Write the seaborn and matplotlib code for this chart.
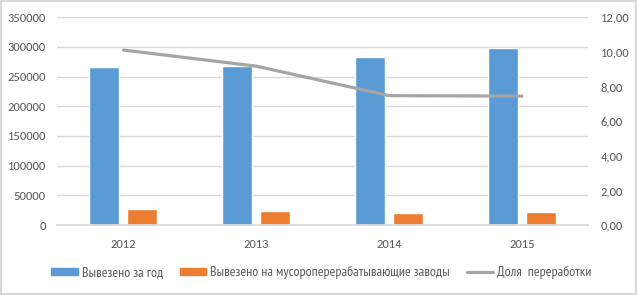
import numpy as np
import pandas as pd
import matplotlib
matplotlib.use('Agg')
import matplotlib.pyplot as plt
import seaborn as sns
from matplotlib.ticker import FuncFormatter
from matplotlib.patches import Patch
from matplotlib.lines import Line2D

# data
years = ['2012', '2013', '2014', '2015']
total_removed = [265400, 267500, 283200, 297800]
to_plants = [26400, 24100, 20700, 21900]
recycle_share = [10.10, 9.17, 7.47, 7.44]

series_names = ['Вывезено за год', 'Вывезено на мусороперерабатывающие заводы']
line_name = 'Доля  переработки'
colors = ['#5B9BD5', '#ED7D31']
line_color = '#A5A5A5'
text_color = '#595959'

df = pd.DataFrame({
    'year': years * 2,
    'value': total_removed + to_plants,
    'series': [series_names[0]] * 4 + [series_names[1]] * 4,
})

sns.set_theme(style='white')
plt.rcParams['font.family'] = ['Carlito', 'DejaVu Sans']

fig = plt.figure(figsize=(6.37, 2.95), dpi=100)
fig.patch.set_edgecolor('#D9D9D9')
fig.patch.set_linewidth(1.5)
ax = fig.add_axes([0.0895, 0.237, 0.834, 0.705])

sns.barplot(data=df, x='year', y='value', hue='series', palette=colors,
            width=0.572, gap=0.21, ax=ax, legend=False, saturation=1)

ax.set_ylim(0, 350000)
ax.set_yticks(np.arange(0, 350001, 50000))
ax.yaxis.grid(True, color='#D9D9D9', linewidth=1)
ax.set_axisbelow(True)
for s in ['top', 'left', 'right']:
    ax.spines[s].set_visible(False)
ax.spines['bottom'].set_color('#D9D9D9')
ax.set_xlabel('')
ax.set_ylabel('')
ax.tick_params(axis='y', colors=text_color, labelsize=9, length=0, pad=8)
ax.tick_params(axis='x', colors=text_color, labelsize=9, length=0, pad=10)
ax.set_xlim(-0.5, 3.5)

ax2 = ax.twinx()
sns.lineplot(x=np.arange(len(years)), y=recycle_share, color=line_color,
             linewidth=2.3, ax=ax2)
ax2.set_ylim(0, 12)
ax2.set_yticks(np.arange(0, 12.01, 2))
ax2.yaxis.set_major_formatter(FuncFormatter(lambda v, p: f'{v:.2f}'.replace('.', ',')))
ax2.tick_params(axis='y', colors=text_color, labelsize=9, length=0, pad=9)
for s in ['top', 'left', 'right', 'bottom']:
    ax2.spines[s].set_visible(False)
ax2.grid(False)

handles = [Patch(color=colors[0]), Patch(color=colors[1]),
           Line2D([0], [0], color=line_color, linewidth=2.3)]
fig.legend(handles, series_names + [line_name], loc='center',
           bbox_to_anchor=(0.505, 0.075), ncol=3, frameon=False,
           prop={'family': ['PT Sans Narrow', 'DejaVu Sans'], 'size': 10},
           labelcolor=text_color, handlelength=1.9,
           handleheight=0.42, handletextpad=0.3, columnspacing=1.2)

fig.savefig('out.png', dpi=100)
